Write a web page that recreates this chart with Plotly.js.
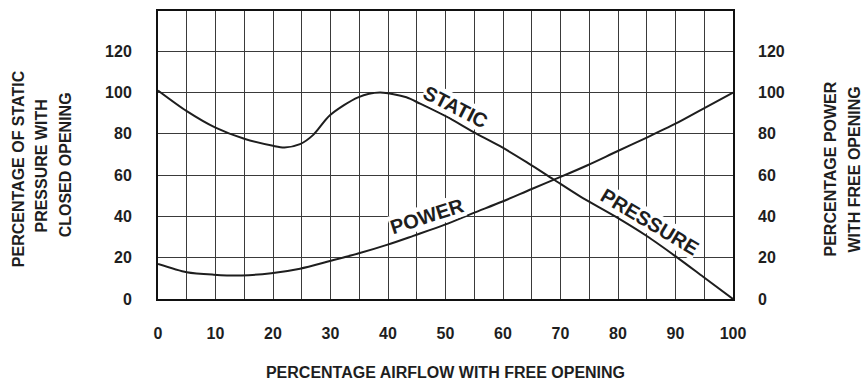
<!DOCTYPE html>
<html>
<head>
<meta charset="utf-8">
<script src="https://cdn.plot.ly/plotly-3.0.1.min.js"></script>
<style>html,body{margin:0;padding:0;background:#fff;}#chart{width:863px;height:381px;}</style>
</head>
<body>
<div id="chart"></div>
<script>
// Data
const staticAirflow = [0, 5, 10, 15, 20, 22, 24.7, 27, 29.9, 34.8, 38.6, 43.2, 45.6, 50.2, 54.8, 59.5, 64.1, 68.75, 73.4, 79.5, 85, 90.2, 94.8, 100];
const staticPressure = [101, 91, 83, 77.6, 74.2, 73.4, 75, 79.5, 89, 97.7, 100, 97.7, 94.6, 88.3, 81, 74, 66.3, 58, 49.7, 40, 30.5, 20.3, 10.8, 0];
const powerAirflow = [0, 5, 9.7, 14.6, 19.7, 24.7, 29.9, 34.8, 39.8, 44.4, 49.9, 54.8, 59.8, 65, 69.9, 74.7, 79.6, 85.1, 90, 94.7, 100];
const powerPct = [17, 13, 11.8, 11.4, 12.5, 14.7, 18.4, 22, 26.2, 30.6, 36, 41.6, 47.1, 53.3, 59, 64.8, 71.2, 78.3, 84.9, 92, 100];
const xTicks = [0, 10, 20, 30, 40, 50, 60, 70, 80, 90, 100];
const yTicks = [0, 20, 40, 60, 80, 100, 120];
const curveLabels = ["STATIC", "POWER", "PRESSURE"];
const xTitle = "PERCENTAGE AIRFLOW WITH FREE OPENING";
const yTitleLines = ["PERCENTAGE OF STATIC", "PRESSURE WITH", "CLOSED OPENING"];
const y2TitleLines = ["PERCENTAGE POWER", "WITH FREE OPENING"];

const FONT = "Liberation Sans, Arial, Helvetica, sans-serif";
const INK = "#1e1e1e";
const GRID = "#3a3a3a";

const traces = [
  {x: staticAirflow, y: staticPressure, type: "scatter", mode: "lines", name: "Static pressure",
   line: {color: INK, width: 2, shape: "spline", smoothing: 0.8}, yaxis: "y", hoverinfo: "x+y"},
  {x: powerAirflow, y: powerPct, type: "scatter", mode: "lines", name: "Power",
   line: {color: INK, width: 2, shape: "spline", smoothing: 0.8}, yaxis: "y2", hoverinfo: "x+y"}
];

const tickFont = {family: FONT, size: 16, weight: "bold", color: INK};
const titleFont = {family: FONT, size: 16, weight: "bold", color: INK};
const labelFont = {family: FONT, size: 20, weight: "bold", color: INK};
const yRange = [0, 139.5];

// axis-title lines placed beside the plot (paper coordinates)
const yTitleX = [-0.2414, -0.2043, -0.1603];
const yTitleY = [0.4514, 0.4618, 0.467];
const y2TitleX = [1.1704, 1.2096];
const y2TitleY = [0.4531, 0.4479];

const annotations = [
  {text: curveLabels[0], x: 51.8, y: 93.1, xref: "x", yref: "y", showarrow: false, textangle: 27,
   font: labelFont, bgcolor: "#fff", borderpad: 0},
  {text: curveLabels[1], x: 46.85, y: 40.3, xref: "x", yref: "y", showarrow: false, textangle: -18,
   font: labelFont, bgcolor: "#fff", borderpad: 0},
  {text: curveLabels[2], x: 85.6, y: 37.5, xref: "x", yref: "y", showarrow: false, textangle: 31,
   font: labelFont, bgcolor: "#fff", borderpad: 0}
];
yTitleLines.forEach((t, i) => annotations.push({
  text: t, xref: "paper", yref: "paper", x: yTitleX[i], y: yTitleY[i], xanchor: "center", yanchor: "middle",
  textangle: -90, showarrow: false, font: titleFont}));
y2TitleLines.forEach((t, i) => annotations.push({
  text: t, xref: "paper", yref: "paper", x: y2TitleX[i], y: y2TitleY[i], xanchor: "center", yanchor: "middle",
  textangle: -90, showarrow: false, font: titleFont}));

const layout = {
  width: 863, height: 381,
  margin: {l: 158, r: 130, t: 11, b: 82, pad: 0},
  paper_bgcolor: "#fff", plot_bgcolor: "#fff",
  showlegend: false,
  xaxis: {
    range: [0, 100], tickvals: xTicks, ticktext: xTicks.map(String),
    showgrid: true, gridcolor: GRID, gridwidth: 1,
    minor: {dtick: 5, showgrid: true, gridcolor: GRID, gridwidth: 1},
    showline: true, mirror: true, linecolor: "#111", linewidth: 2,
    zeroline: false, ticks: "", ticklabelstandoff: 19,
    tickfont: tickFont,
    title: {text: xTitle, font: titleFont, standoff: 33}
  },
  yaxis: {
    range: yRange, tickvals: yTicks, ticktext: yTicks.map(String),
    showgrid: true, gridcolor: GRID, gridwidth: 1,
    showline: true, mirror: true, linecolor: "#111", linewidth: 2,
    zeroline: false, ticks: "", ticklabelstandoff: 21,
    tickfont: tickFont
  },
  yaxis2: {
    range: yRange, tickvals: yTicks, ticktext: yTicks.map(String),
    overlaying: "y", side: "right",
    showgrid: false, showline: false, zeroline: false, ticks: "", ticklabelstandoff: 24,
    tickfont: tickFont
  },
  annotations: annotations
};

Plotly.newPlot("chart", traces, layout, {displayModeBar: false, staticPlot: true});
</script>
</body>
</html>
